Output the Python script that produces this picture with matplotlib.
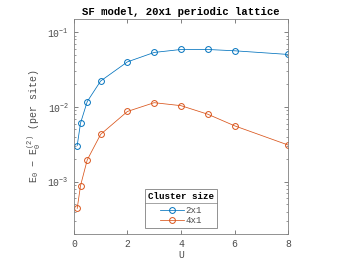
import matplotlib
matplotlib.use("Agg")
import matplotlib.pyplot as plt
from matplotlib.lines import Line2D

# data
u_vals = [0.125, 0.25, 0.5, 1, 2, 3, 4, 5, 6, 8]
err_2x1 = [3.05e-3, 6.1e-3, 0.0118, 0.0222, 0.040, 0.0535, 0.0586, 0.0586, 0.0563, 0.0503]
err_4x1 = [4.4e-4, 8.9e-4, 1.96e-3, 4.3e-3, 8.7e-3, 0.0114, 0.0104, 0.0080, 5.6e-3, 3.1e-3]
series_labels = ["2x1", "4x1"]
x_ticks = [0, 2, 4, 6, 8]

plt.rcParams["font.family"] = ["Liberation Mono", "DejaVu Sans Mono"]
plt.rcParams["mathtext.fontset"] = "custom"
plt.rcParams["mathtext.rm"] = "Liberation Mono"
plt.rcParams["mathtext.it"] = "Liberation Mono"

grey = "#4d4d4d"
c_blue = "#0072BD"
c_orange = "#D95319"

fig = plt.figure(figsize=(3.5, 2.63), dpi=100)
ax = fig.add_axes([0.211, 0.110, 0.612, 0.818])

ax.semilogy(u_vals, err_2x1, "-o", color=c_blue, lw=0.55, ms=4.2, mfc="none", mew=0.7, label=series_labels[0])
ax.semilogy(u_vals, err_4x1, "-o", color=c_orange, lw=0.55, ms=4.2, mfc="none", mew=0.7, label=series_labels[1])

ax.set_xlim(0, 8)
ax.set_ylim(2.0e-4, 0.15)
ax.set_xticks(x_ticks)
ax.tick_params(which="both", direction="in", top=True, right=True, colors=grey, labelsize=7)
ax.tick_params(which="major", length=3, width=0.5)
ax.tick_params(which="minor", length=1.6, width=0.4)
for sp in ax.spines.values():
    sp.set_color("#808080")
    sp.set_linewidth(0.6)

ax.set_xlabel("U", fontsize=7, color=grey, labelpad=1)
ax.set_ylabel(r"E$_0$ $-$ E$_0^{(2)}$ (per site)", fontsize=7.2, color=grey, labelpad=3)
ax.set_title("SF model, 20x1 periodic lattice", fontsize=7.7, fontweight="bold", pad=3)

leg = ax.legend(title="Cluster size", loc="lower center", bbox_to_anchor=(0.5, 0.028),
                fontsize=6.6, title_fontproperties={"weight": "bold", "size": 6.6},
                fancybox=False, framealpha=1, edgecolor="#808080", handlelength=2.6,
                borderpad=0.3, labelspacing=0.12, handletextpad=0.2, borderaxespad=0)
leg.get_frame().set_linewidth(0.6)
leg._legend_box.sep = 4
for t in leg.get_texts():
    t.set_color(grey)

# separator under the legend title, as in the reference
fig.canvas.draw()
inv = fig.transFigure.inverted()
bb = leg.get_window_extent().transformed(inv)
tb = leg.get_title().get_window_extent().transformed(inv)
eb = leg.get_texts()[0].get_window_extent().transformed(inv)
y_sep = 0.5 * (tb.y0 + eb.y1)
fig.add_artist(Line2D([bb.x0, bb.x1], [y_sep, y_sep], transform=fig.transFigure, color="#808080", lw=0.5))

fig.savefig("out.png", dpi=100)
